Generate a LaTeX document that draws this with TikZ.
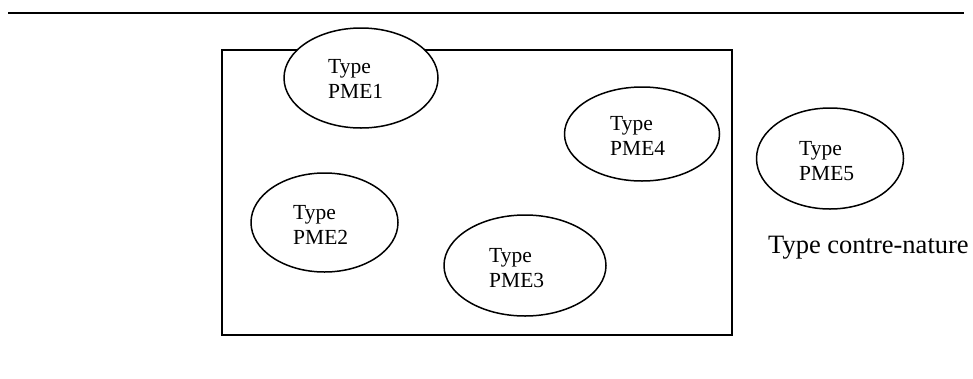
\documentclass[tikz,border=0pt]{standalone}
\usepackage{fontspec}
\setmainfont{Liberation Serif}
\usetikzlibrary{shapes.geometric}
\begin{document}
\begin{tikzpicture}[x=1pt,y=-1pt,
  pme/.style={draw,line width=1.5pt,ellipse,inner sep=0pt},
  pmetext/.style={anchor=base west,inner sep=0pt,align=left,
    font=\fontsize{21.5}{25}\selectfont},
  frame/.style={draw,line width=1.8pt}]
\useasboundingbox (0,0) rectangle (973,378);
% rule across the top
\coordinate (ruleL) at (8,13);
\coordinate (ruleR) at (964,13);
\draw[line width=1.8pt] (ruleL) -- (ruleR);
% enclosing box
\node[frame,inner sep=0pt,minimum width=510pt,minimum height=285pt] (box) at (477,192.5) {};
% the five types (anchor on the baseline of the second line)
\node[pme,fill=white,minimum width=154pt,minimum height=100pt] (e1) at (361,78) {};
\node[pmetext] (t1) at (328,98) {Type\\PME1};
\node[pme,minimum width=147pt,minimum height=99pt] (e2) at (324.5,222.5) {};
\node[pmetext] (t2) at (293,244) {Type\\PME2};
\node[pme,minimum width=162pt,minimum height=101pt] (e3) at (525,265.5) {};
\node[pmetext] (t3) at (489,287) {Type\\PME3};
\node[pme,minimum width=155pt,minimum height=94pt] (e4) at (642,134) {};
\node[pmetext] (t4) at (610,155) {Type\\PME4};
\node[pme,minimum width=147pt,minimum height=101pt] (e5) at (830,158.5) {};
\node[pmetext] (t5) at (799,180) {Type\\PME5};
\node[anchor=base west,inner sep=0pt,font=\fontsize{26.5}{30}\selectfont] (cn) at (768,253) {Type contre-nature};
\end{tikzpicture}
\end{document}
